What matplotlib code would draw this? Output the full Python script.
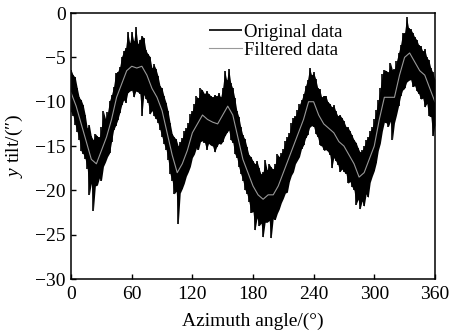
import numpy as np
import matplotlib
matplotlib.use('Agg')
from matplotlib import pyplot as plt

plt.rcParams['font.family'] = ['Liberation Serif', 'DejaVu Serif']
plt.rcParams['mathtext.fontset'] = 'custom'
plt.rcParams['mathtext.rm'] = 'Liberation Serif'
plt.rcParams['mathtext.it'] = 'Liberation Serif:italic'

# original (noisy) data: upper / lower extent of the trace every 2 degrees
orig_x = np.arange(0, 361, 2)
orig_hi = [-6.4, -7.0, -7.2, -8.4, -9.5, -9.8, -10.4, -11.5, -13.0, -12.6,
           -13.9, -14.3, -13.6, -13.9, -14.0, -12.8, -11.1, -11.9, -11.2, -9.9,
           -9.2, -8.3, -6.8, -6.6, -6.1, -4.9, -4.3, -3.9, -2.1, -3.4,
           -2.1, -3.2, -1.6, -3.5, -3.0, -2.6, -2.8, -4.2, -4.6, -4.9,
           -6.2, -5.8, -6.3, -7.1, -8.2, -8.5, -9.4, -10.1, -11.1, -12.4,
           -13.6, -14.0, -14.2, -15.0, -14.5, -14.1, -13.3, -13.0, -12.4, -11.4,
           -11.0, -10.2, -9.4, -9.6, -8.5, -8.7, -9.1, -8.8, -9.1, -9.3,
           -9.5, -9.2, -9.4, -9.0, -9.5, -8.4, -6.5, -7.6, -6.3, -7.9,
           -8.5, -9.6, -11.0, -11.7, -12.9, -13.8, -14.2, -15.1, -16.0, -16.2,
           -16.7, -17.0, -16.7, -17.5, -18.2, -17.9, -16.6, -17.7, -17.0, -17.4,
           -17.6, -17.0, -15.9, -16.2, -15.8, -15.3, -14.4, -14.0, -13.5, -12.4,
           -11.8, -11.6, -10.9, -10.3, -9.8, -9.1, -8.2, -7.5, -6.2, -7.0,
           -6.7, -7.4, -8.4, -8.6, -9.5, -9.3, -9.3, -10.0, -10.2, -10.6,
           -10.4, -11.1, -11.6, -11.5, -11.8, -12.2, -12.8, -12.9, -13.3, -13.8,
           -14.3, -14.6, -15.2, -15.7, -15.5, -15.0, -14.3, -14.0, -13.3, -12.9,
           -12.0, -10.9, -9.8, -8.4, -6.9, -6.4, -6.5, -6.7, -5.6, -6.4,
           -6.3, -5.4, -4.5, -3.6, -2.3, -2.2, -0.5, -1.7, -1.8, -2.2,
           -2.7, -3.0, -3.6, -3.7, -4.3, -4.1, -5.0, -5.3, -6.2, -6.7,
           -7.5]
orig_lo = [-11.2, -11.6, -12.6, -13.4, -14.3, -15.6, -15.9, -16.5, -17.6, -20.5,
           -19.2, -22.3, -19.5, -19.4, -18.6, -18.9, -17.3, -16.8, -16.2, -15.8,
           -14.5, -13.2, -12.7, -12.1, -11.3, -10.4, -9.8, -10.1, -9.0, -8.8,
           -8.7, -9.5, -8.8, -8.9, -9.1, -11.6, -9.2, -9.7, -10.1, -11.4,
           -11.0, -11.6, -11.9, -12.4, -13.2, -14.0, -14.8, -15.4, -16.6, -18.2,
           -18.9, -20.4, -20.1, -23.8, -20.3, -19.8, -19.2, -18.4, -17.9, -17.3,
           -16.3, -15.9, -15.2, -15.4, -14.5, -14.4, -14.6, -15.4, -14.7, -14.9,
           -15.0, -15.7, -15.1, -14.7, -14.8, -14.5, -13.9, -13.5, -13.2, -14.3,
           -14.6, -15.9, -16.3, -17.4, -18.2, -18.9, -19.9, -20.4, -21.3, -22.5,
           -22.4, -24.5, -23.1, -24.0, -23.7, -25.3, -23.6, -23.6, -23.4, -25.4,
           -23.2, -23.3, -22.6, -22.1, -21.4, -20.9, -20.3, -20.2, -19.0, -18.3,
           -17.9, -17.0, -16.6, -16.2, -15.3, -14.9, -14.1, -13.7, -12.9, -12.7,
           -12.8, -13.6, -14.0, -14.9, -15.0, -15.5, -15.4, -15.6, -16.0, -17.5,
           -16.3, -16.7, -17.1, -17.9, -17.6, -17.9, -18.1, -19.2, -19.0, -19.6,
           -20.0, -21.6, -21.0, -22.1, -21.2, -21.8, -20.4, -20.8, -19.1, -18.4,
           -17.8, -16.9, -15.5, -14.7, -13.3, -12.3, -12.4, -12.8, -12.2, -14.3,
           -12.4, -11.5, -10.5, -9.4, -8.7, -8.5, -7.8, -7.6, -7.5, -8.3,
           -8.2, -8.8, -9.1, -9.7, -9.6, -10.6, -10.2, -11.6, -11.7, -13.9,
           -12.6]

# filtered data, every 5 degrees
filt_x = np.arange(0, 361, 5)
filt_y = [-9.0, -10.5, -12.5, -14.5, -16.5, -17.0, -15.5, -14.0, -12.0, -9.5,
          -8.0, -6.5, -6.0, -6.2, -6.0, -7.0, -8.5, -9.5, -11.0, -13.5,
          -16.0, -18.0, -17.0, -15.5, -13.5, -12.5, -11.5, -12.0, -12.3, -12.5,
          -11.5, -10.5, -11.5, -14.0, -16.5, -18.0, -19.5, -20.5, -21.0, -20.5,
          -20.5, -19.5, -18.0, -16.5, -15.0, -13.5, -12.0, -10.0, -10.0, -11.5,
          -12.5, -13.0, -13.5, -14.5, -15.0, -16.0, -17.0, -18.5, -18.0, -16.5,
          -15.0, -12.0, -9.5, -9.5, -9.5, -7.0, -5.0, -4.5, -5.5, -6.5,
          -7.0, -8.5, -10.0]

xticks = [0, 60, 120, 180, 240, 300, 360]
yticks = [0, -5, -10, -15, -20, -25, -30]

fig = plt.figure(figsize=(4.53, 3.35), dpi=100)
ax = fig.add_axes([0.157, 0.167, 0.803, 0.794])

ax.fill_between(orig_x, orig_lo, orig_hi, color='black', lw=0)
ax.vlines(orig_x, orig_lo, orig_hi, color='black', lw=1.2, label='Original data')
ax.plot(filt_x, filt_y, color='#999999', lw=0.8, label='Filtered data')

ax.set_xlim(0, 360)
ax.set_ylim(-30, 0)
ax.set_xticks(xticks)
ax.set_yticks(yticks)
ax.set_yticklabels(['0' if t == 0 else '\u2212%d' % -t for t in yticks])
ax.tick_params(direction='in', length=3.5, width=1, labelsize=14)
ax.tick_params(axis='x', pad=5)
ax.tick_params(axis='y', pad=4)
for s in ax.spines.values():
    s.set_linewidth(1.1)

ax.set_xlabel('Azimuth angle/(\u00b0)', fontsize=14, labelpad=7)
ax.set_ylabel('$\\it{y}$ tilt/(\u2033)', fontsize=14, labelpad=7)

leg = ax.legend(loc='upper left', bbox_to_anchor=(0.35, 1.0), frameon=False,
                fontsize=13.5, handlelength=1.75, handletextpad=0.15,
                labelspacing=0.05, borderaxespad=0.15)

plt.savefig('out.png', dpi=100)
